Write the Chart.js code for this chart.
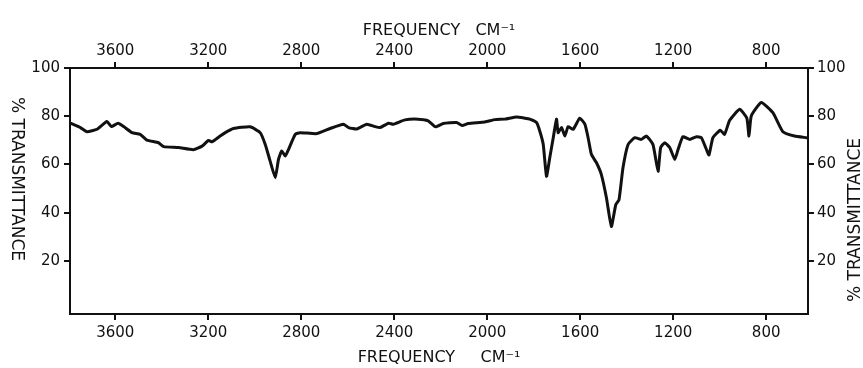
<!DOCTYPE html>
<html>
<head>
<meta charset="utf-8">
<script src="https://cdn.jsdelivr.net/npm/chart.js@4/dist/chart.umd.min.js"></script>
<style>
  html, body { margin: 0; padding: 0; background: #fff; }
  #wrap { width: 863px; height: 368px; position: relative; }
</style>
</head>
<body>
<div id="wrap"><canvas id="irChart"></canvas></div>
<script>
// wavenumber (cm-1) and % transmittance
const wavenumbers = [3790, 3783, 3750, 3722, 3679, 3636, 3617, 3588, 3564, 3528, 3493, 3464, 3414, 3392, 3328, 3264, 3227, 3199, 3184, 3149,
  3127, 3092, 3020, 2977, 2955, 2934, 2912, 2898, 2884, 2869, 2855, 2826, 2805, 2733, 2676, 2619, 2597, 2561, 2518, 2483,
  2461, 2425, 2404, 2354, 2297, 2254, 2222, 2189, 2132, 2108, 2082, 2010, 1967, 1924, 1874, 1838, 1817, 1788, 1774, 1759,
  1745, 1731, 1716, 1702, 1695, 1680, 1666, 1652, 1630, 1602, 1580, 1566, 1552, 1530, 1509, 1487, 1466, 1447, 1433, 1416,
  1394, 1365, 1337, 1315, 1287, 1265, 1254, 1236, 1215, 1193, 1179, 1158, 1129, 1100, 1079, 1057, 1046, 1029, 997, 979,
  957, 914, 883, 874, 864, 821, 771, 728, 678, 627];
const transmittance = [77.0, 76.7, 75.3, 73.6, 74.6, 77.8, 75.7, 77.1, 75.7, 73.2, 72.5, 70.1, 69.0, 67.4, 67.0, 66.1, 67.6, 70.0, 69.4, 71.8,
  73.2, 74.9, 75.6, 73.2, 68.3, 61.4, 54.5, 62.1, 65.6, 63.5, 66.2, 72.5, 73.2, 72.8, 74.9, 76.7, 75.3, 74.7, 76.7, 75.7,
  75.3, 77.1, 76.7, 78.5, 78.8, 78.1, 75.6, 77.0, 77.4, 76.2, 77.0, 77.6, 78.6, 78.8, 79.7, 79.2, 78.8, 77.4, 73.9, 68.3,
  55.1, 62.8, 71.1, 78.8, 73.2, 75.3, 71.8, 75.7, 74.6, 79.2, 76.7, 71.1, 64.2, 60.7, 55.8, 46.1, 34.3, 43.3, 45.4, 58.6,
  68.3, 71.1, 70.4, 71.8, 68.3, 57.2, 67.0, 69.0, 67.0, 62.1, 66.2, 71.5, 70.4, 71.5, 71.1, 66.2, 63.9, 71.1, 74.2, 72.5,
  78.3, 82.9, 79.2, 71.8, 80.1, 85.7, 81.5, 73.6, 71.8, 71.1];
const freqTicks = [3600, 3200, 2800, 2400, 2000, 1600, 1200, 800];
const transTicks = [20, 40, 60, 80, 100];

const ink = '#111';
const tickFont = { family: 'DejaVu Sans', size: 15 };
const titleFont = { family: 'DejaVu Sans', size: 16 };

function freqAxis(pos, h, pad, titleText, titlePad) {
  return {
    type: 'linear', position: pos, reverse: true, min: 620, max: 3795,
    afterFit: s => { s.height = h; },
    afterBuildTicks: s => { s.ticks = freqTicks.map(v => ({ value: v })); },
    border: { display: true, color: ink, width: 2 },
    grid: { display: true, drawOnChartArea: false, drawTicks: true, tickLength: 6, color: ink, lineWidth: 2 },
    ticks: { color: ink, font: tickFont, padding: pad, maxRotation: 0, autoSkip: false, callback: v => String(v) },
    title: { display: true, text: titleText, color: ink, font: titleFont, padding: titlePad }
  };
}

function transAxis(pos, w, pad) {
  return {
    type: 'linear', position: pos, min: -2, max: 100,
    afterFit: s => { s.width = w; },
    afterBuildTicks: s => { s.ticks = transTicks.map(v => ({ value: v })); },
    border: { display: true, color: ink, width: 2 },
    grid: { display: true, drawOnChartArea: false, drawTicks: true, tickLength: 6, color: ink, lineWidth: 2 },
    ticks: { color: ink, font: tickFont, padding: pad, autoSkip: false, callback: v => String(v) }
  };
}

const sideTitles = {
  id: 'sideTitles',
  afterDraw(chart) {
    const ctx = chart.ctx;
    [[16, 179, Math.PI / 2], [856, 220, -Math.PI / 2]].forEach(([x, y, rot]) => {
      ctx.save();
      ctx.fillStyle = ink;
      ctx.font = '17px "DejaVu Sans"';
      ctx.textAlign = 'center';
      ctx.textBaseline = 'middle';
      ctx.translate(x, y);
      ctx.rotate(rot);
      ctx.fillText('% TRANSMITTANCE', 0, 0);
      ctx.restore();
    });
  }
};

new Chart(document.getElementById('irChart'), {
  type: 'line',
  data: {
    datasets: [{
      data: wavenumbers.map((f, i) => ({ x: f, y: transmittance[i] })),
      borderColor: ink, borderWidth: 3, pointRadius: 0, tension: 0.15, fill: false,
      borderJoinStyle: 'round', borderCapStyle: 'round',
      xAxisID: 'x', yAxisID: 'y'
    }]
  },
  options: {
    responsive: true, maintainAspectRatio: false, animation: false,
    layout: { padding: 0 },
    plugins: { legend: { display: false }, tooltip: { enabled: false } },
    scales: {
      x: freqAxis('bottom', 54, 4, 'FREQUENCY     CM\u207B\u00B9', { top: 0, bottom: 1 }),
      x2: freqAxis('top', 68, 2, 'FREQUENCY   CM\u207B\u00B9', { top: 21, bottom: 0 }),
      y: transAxis('left', 70, 4),
      y2: transAxis('right', 55, 3)
    }
  },
  plugins: [sideTitles]
});
</script>
</body>
</html>
